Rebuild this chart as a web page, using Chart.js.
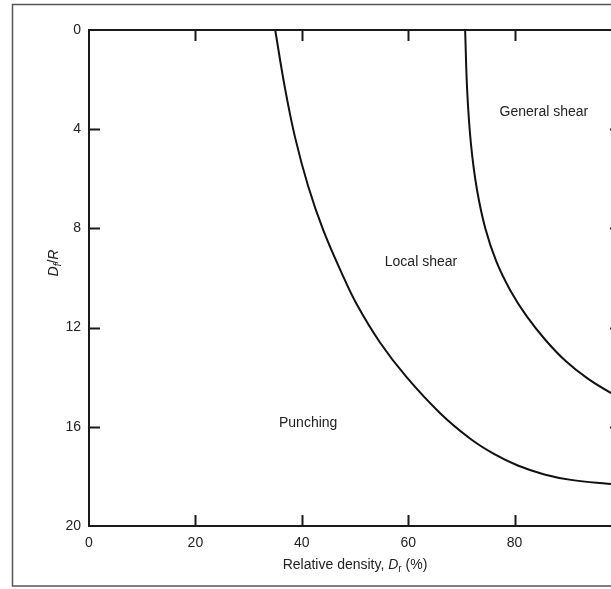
<!DOCTYPE html>
<html lang="en">
<head>
    <meta charset="UTF-8">
    <title>Failure modes vs relative density</title>
    <script src="https://cdn.jsdelivr.net/npm/chart.js"></script>
    <style>
        html, body { margin: 0; padding: 0; background: #fff; overflow: hidden; }
        .wrap { width: 640px; height: 589px; }
    </style>
</head>
<body>
    <div class="wrap">
        <canvas id="myChart" width="640" height="589"></canvas>
    </div>
    <script>
        // boundary between punching and local shear
        const densityLocal = [35, 36.8, 38.7, 41.2, 44.0, 47.5, 50.3, 54.7, 59.7, 66.0, 71.8, 76.2, 80.6, 85.6, 90.6, 97.5, 100];
        const depthLocal   = [0, 2.3, 4.3, 6.3, 8.05, 9.8, 11.05, 12.6, 14.0, 15.45, 16.5, 17.1, 17.56, 17.92, 18.14, 18.3, 18.34];

        // boundary between local shear and general shear
        const densityGeneral = [70.7, 71.1, 71.8, 72.9, 74.5, 76.6, 79.2, 82.3, 85.8, 89.6, 93.7, 98.0, 100];
        const depthGeneral   = [0, 2.5, 4.6, 6.4, 8.0, 9.35, 10.5, 11.55, 12.5, 13.35, 14.05, 14.62, 14.8];

        const xTicks = [0, 20, 40, 60, 80, 100];
        const yTicks = [0, 4, 8, 12, 16, 20];

        // zone names, placed at (density, depth)
        const zoneNames = ['General shear', 'Local shear', 'Punching'];
        const zoneDensity = [85.5, 62.4, 41.2];
        const zoneDepth = [3.3, 9.35, 15.85];

        const FONT = '"Liberation Sans", Arial, sans-serif';
        const INK = '#222';

        const toPoints = (xs, ys) => xs.map((x, i) => ({ x: x, y: ys[i] }));

        // frame, inward ticks, axis titles and zone names
        const decor = {
            id: 'decor',
            afterDraw(chart) {
                const ctx = chart.ctx;
                const a = chart.chartArea;
                const xs = chart.scales.x, ys = chart.scales.y;
                ctx.save();

                // outer frame of the figure
                ctx.strokeStyle = '#555';
                ctx.lineWidth = 1.5;
                ctx.strokeRect(12.5, 4.5, 700, 581.5);

                // plot box
                ctx.strokeStyle = '#1a1a1a';
                ctx.lineWidth = 2;
                ctx.strokeRect(a.left, a.top, a.right - a.left, a.bottom - a.top);

                // inward ticks
                const len = 11;
                ctx.beginPath();
                xTicks.slice(1, -1).forEach(v => {
                    const px = Math.round(xs.getPixelForValue(v)) + 0.5;
                    ctx.moveTo(px, a.bottom); ctx.lineTo(px, a.bottom - len);
                    ctx.moveTo(px, a.top); ctx.lineTo(px, a.top + len);
                });
                yTicks.slice(1, -1).forEach(v => {
                    const py = Math.round(ys.getPixelForValue(v)) + 0.5;
                    ctx.moveTo(a.left, py); ctx.lineTo(a.left + len, py);
                    ctx.moveTo(a.right, py); ctx.lineTo(a.right - len, py);
                });
                ctx.stroke();

                ctx.fillStyle = INK;
                ctx.textBaseline = 'middle';

                // x title: Relative density, D_r (%)
                const parts = [
                    ['Relative density, ', '14px ' + FONT, 0],
                    ['D', 'italic 14px ' + FONT, 0],
                    ['r', '10px ' + FONT, 4],
                    [' (%)', '14px ' + FONT, 0]
                ];
                let total = 0;
                parts.forEach(p => { ctx.font = p[1]; total += ctx.measureText(p[0]).width; });
                let cx = (a.left + a.right) / 2 - total / 2;
                ctx.textAlign = 'left';
                parts.forEach(p => {
                    ctx.font = p[1];
                    ctx.fillText(p[0], cx, 565 + p[2]);
                    cx += ctx.measureText(p[0]).width;
                });

                // y title: D_f/R
                const yParts = [
                    ['D', 'italic 14px ' + FONT, 0],
                    ['f', 'italic 10px ' + FONT, 4],
                    ['/', '14px ' + FONT, 0],
                    ['R', 'italic 14px ' + FONT, 0]
                ];
                total = 0;
                yParts.forEach(p => { ctx.font = p[1]; total += ctx.measureText(p[0]).width; });
                ctx.translate(54, 263);
                ctx.rotate(-Math.PI / 2);
                cx = -total / 2;
                yParts.forEach(p => {
                    ctx.font = p[1];
                    ctx.fillText(p[0], cx, p[2]);
                    cx += ctx.measureText(p[0]).width;
                });
                ctx.setTransform(1, 0, 0, 1, 0, 0);

                // zone names
                ctx.font = '14px ' + FONT;
                ctx.textAlign = 'center';
                zoneNames.forEach((n, i) => {
                    ctx.fillText(n, xs.getPixelForValue(zoneDensity[i]), ys.getPixelForValue(zoneDepth[i]));
                });

                ctx.restore();
            }
        };

        const lineStyle = {
            showLine: true,
            borderColor: '#111',
            borderWidth: 2,
            pointRadius: 0,
            tension: 0.4,
            fill: false
        };

        const config = {
            type: 'scatter',
            data: {
                datasets: [
                    Object.assign({ label: 'Punching / local shear', data: toPoints(densityLocal, depthLocal) }, lineStyle),
                    Object.assign({ label: 'Local / general shear', data: toPoints(densityGeneral, depthGeneral) }, lineStyle)
                ]
            },
            options: {
                responsive: false,
                animation: false,
                layout: { padding: { top: 30, right: 19, left: 0, bottom: 0 } },
                plugins: {
                    legend: { display: false },
                    tooltip: { enabled: false }
                },
                scales: {
                    x: {
                        type: 'linear',
                        min: 0,
                        max: 100,
                        afterBuildTicks: s => { s.ticks = xTicks.map(v => ({ value: v })); },
                        afterFit: s => { s.height = 63; },
                        grid: { display: false, drawTicks: false, tickLength: 0 },
                        border: { display: false },
                        ticks: {
                            color: INK,
                            padding: 9,
                            maxRotation: 0,
                            font: { family: FONT, size: 14 },
                            callback: v => (v === 100 ? '' : String(v))
                        }
                    },
                    y: {
                        min: 0,
                        max: 20,
                        reverse: true,
                        afterBuildTicks: s => { s.ticks = yTicks.map(v => ({ value: v })); },
                        afterFit: s => { s.width = 89; },
                        grid: { display: false, drawTicks: false, tickLength: 0 },
                        border: { display: false },
                        ticks: {
                            color: INK,
                            padding: 8,
                            font: { family: FONT, size: 14 }
                        }
                    }
                }
            },
            plugins: [decor]
        };

        const myChart = new Chart(document.getElementById('myChart'), config);
    </script>
</body>
</html>
